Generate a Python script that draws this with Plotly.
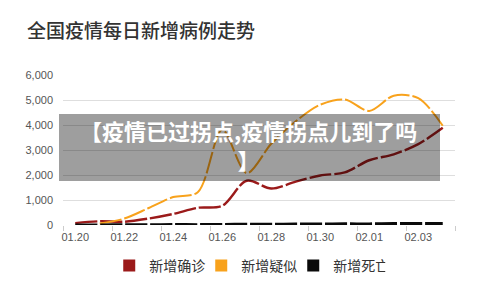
import plotly.graph_objects as go

dates = ["01.20", "01.21", "01.22", "01.23", "01.24", "01.25", "01.26", "01.27",
         "01.28", "01.29", "01.30", "01.31", "02.01", "02.02", "02.03", "02.04"]
confirmed = [77, 149, 131, 259, 444, 688, 769, 1771, 1459, 1737, 1982, 2102, 2590, 2829, 3235, 3887]
suspected = [None, 60, 257, 680, 1118, 1309, 3806, 2077, 3248, 4148, 4812, 5019, 4562, 5173, 5072, 3971]
deaths = [3, 3, 8, 8, 16, 15, 24, 26, 26, 38, 43, 46, 45, 57, 64, 65]
series_names = ["新增确诊", "新增疑似", "新增死亡"]
series_colors = ["#9b1a1a", "#f8a21c", "#0a0a0a"]
series_widths = [2.4, 2.0, 3.0]
y_ticks = [0, 1000, 2000, 3000, 4000, 5000, 6000]

title_text = "全国疫情每日新增病例走势"
overlay_line1 = "【疫情已过拐点,疫情拐点儿到了吗"
overlay_line2 = "】"

CJK = "Noto Sans CJK SC, sans-serif"
LAT = "Liberation Sans, Arial, sans-serif"

xs = list(range(len(dates)))
fig = go.Figure()
for vals, name, col, w in zip([confirmed, suspected, deaths], series_names, series_colors, series_widths):
    fig.add_trace(go.Scatter(
        x=xs, y=vals, mode="lines", showlegend=False, hoverinfo="skip",
        line=dict(color=col, width=w, shape="spline", smoothing=0.9, dash="22px,3px"),
    ))
for name, col in zip(series_names, series_colors):
    fig.add_trace(go.Scatter(
        x=[None], y=[None], mode="markers", name=name,
        marker=dict(symbol="square", size=11, color=col),
    ))

fig.update_layout(
    width=500, height=295,
    margin=dict(l=63, r=45, t=75, b=70),
    paper_bgcolor="white", plot_bgcolor="white",
    title=dict(text=title_text, x=27 / 500, xanchor="left", xref="container",
               y=1 - 31 / 295, yanchor="middle", yref="container",
               font=dict(family=CJK, size=19, color="#333333", weight=500)),
    legend=dict(orientation="h", x=0.47, xanchor="center", y=-0.273, yanchor="middle",
                font=dict(family=CJK, size=14, color="#333333"),
                entrywidth=47, entrywidthmode="pixels",
                itemsizing="constant", bgcolor="rgba(0,0,0,0)"),
    showlegend=True,
)
fig.update_xaxes(
    range=[-0.5, len(dates) - 0.5], showgrid=False, zeroline=False, showline=False,
    tickmode="array", tickvals=xs[::2], ticktext=dates[::2], ticks="",
    tickfont=dict(family=LAT, size=11, color="#555555"), ticklabelstandoff=4,
    minor=dict(tickmode="array", tickvals=[i - 0.5 for i in range(0, len(dates) + 1, 2)],
               ticks="outside", ticklen=5, tickcolor="#cccccc", tickwidth=1, showgrid=False),
)
fig.update_yaxes(
    range=[0, 6000], showgrid=True, gridcolor="#dedede", gridwidth=1.2,
    zeroline=False, showline=False, tickmode="array", tickvals=y_ticks,
    tickformat=",d", ticks="", ticklabelstandoff=9,
    tickfont=dict(family=LAT, size=11, color="#555555"),
)
fig.add_shape(type="rect", xref="paper", yref="paper",
              x0=(59 - 63) / 392, x1=(440 - 63) / 392,
              y0=(225 - 181) / 150, y1=(225 - 114) / 150,
              fillcolor="rgba(0,0,0,0.38)", line=dict(width=0), layer="above")
fig.add_annotation(xref="paper", yref="paper", x=(248 - 63) / 392, y=(225 - 144) / 150,
                   text="<b>" + overlay_line1 + "</b><br><b>" + overlay_line2 + "</b>",
                   showarrow=False, align="center",
                   xanchor="center", yanchor="middle",
                   font=dict(family=CJK, size=22, color="white", weight=900))

fig.write_html("out.html")
